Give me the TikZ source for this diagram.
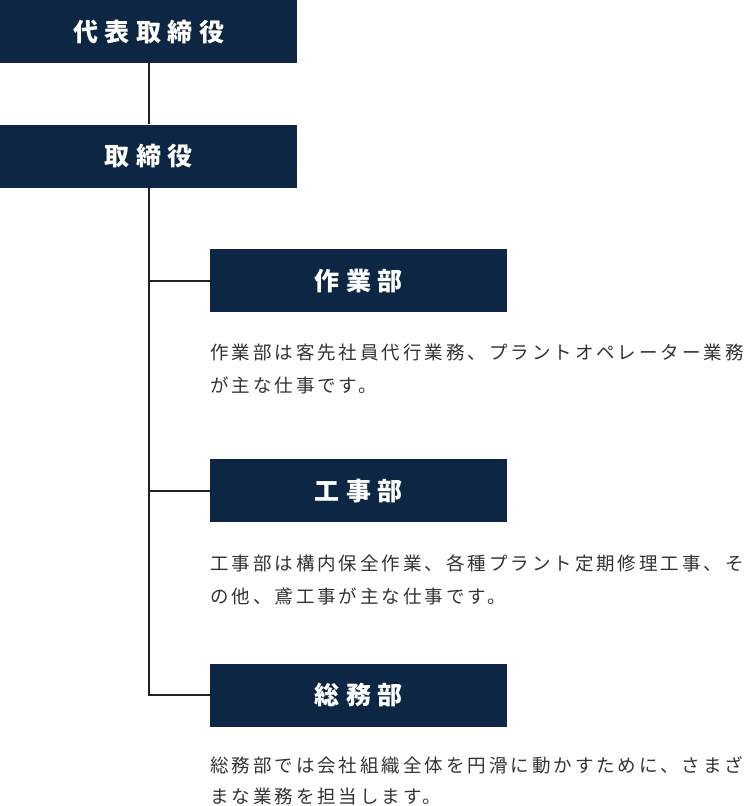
\documentclass[tikz,border=0pt]{standalone}
\usepackage{fontspec}
\usepackage{xcolor}
\usetikzlibrary{positioning}
\newfontfamily\jpfont[LetterSpace=16]{Noto Sans CJK JP}
\newfontfamily\jphead[LetterSpace=26]{Noto Sans CJK JP}
\definecolor{orgNavy}{HTML}{0D2644}
\definecolor{orgLine}{HTML}{222222}
\definecolor{orgText}{HTML}{333333}

\begin{document}
\begin{tikzpicture}[x=1pt, y=-1pt,
  rolebox/.style={fill=orgNavy, text=white, minimum width=297pt,
    minimum height=63pt, inner sep=0pt, font=\jphead\fontsize{25pt}{28pt}\selectfont\bfseries},
  deptbox/.style={rolebox},
  desc/.style={anchor=north west, inner sep=0pt, align=left, text=orgText,
    font=\jpfont\fontsize{18.5pt}{33pt}\selectfont},
  tree/.style={draw=orgLine, line width=2pt}]
\useasboundingbox (0,0) rectangle (748,806);

\node[rolebox, anchor=north west] (ceo) at (0,0) {代表取締役};
\node[rolebox, below=61pt of ceo] (board) {取締役};

\node[deptbox, below=61pt of board, xshift=210pt] (work) {作業部};
\node[deptbox, below=147pt of work] (koji) {工事部};
\node[deptbox, below=141pt of koji] (somu) {総務部};

\node[desc, below=32pt of work.south west, anchor=north west] (workdesc)
  {作業部は客先社員代行業務、プラントオペレーター業務\\が主な仕事です。};
\node[desc, below=32pt of koji.south west, anchor=north west] (kojidesc)
  {工事部は構内保全作業、各種プラント定期修理工事、そ\\の他、鳶工事が主な仕事です。};
\node[desc, below=29pt of somu.south west, anchor=north west,
  font=\jpfont\fontsize{18.5pt}{31pt}\selectfont] (somudesc)
  {総務部では会社組織全体を円滑に動かすために、さまざ\\まな業務を担当します。};

% connectors
\draw[tree] (ceo.south) -- (board.north);
\draw[tree] (board.south) |- (work.west);
\draw[tree] (board.south) |- (koji.west);
\draw[tree] (board.south) |- (somu.west);
\end{tikzpicture}
\end{document}
